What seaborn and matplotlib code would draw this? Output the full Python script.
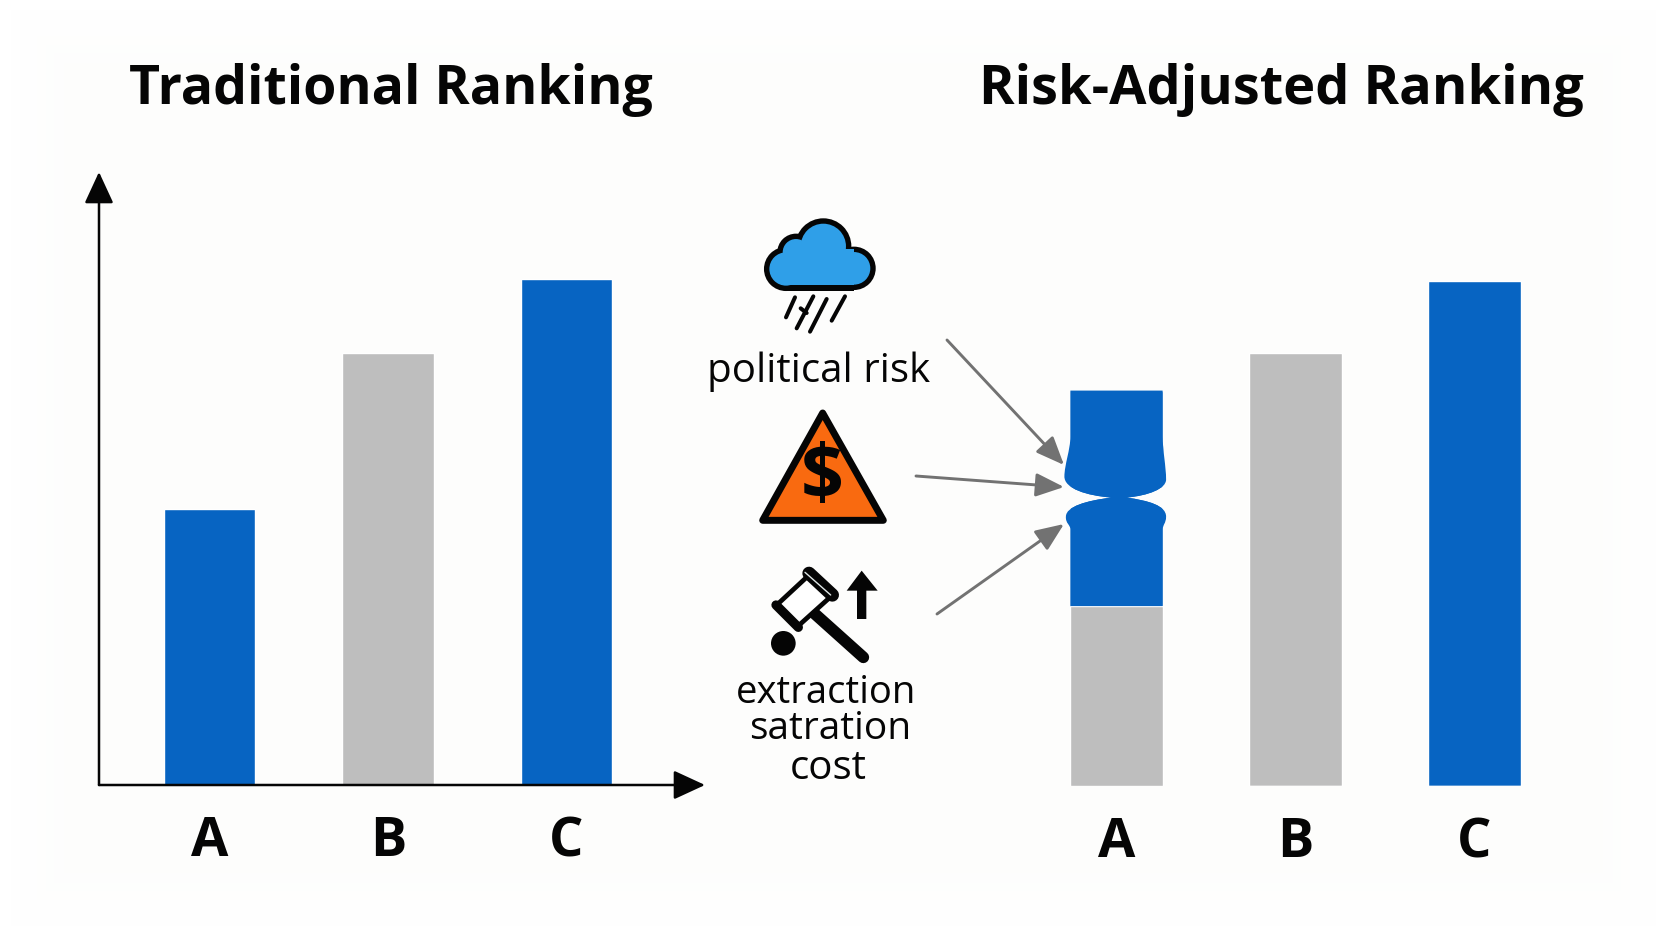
#!/usr/bin/env python3
"""Traditional vs risk-adjusted ranking, two bar panels with risk icons between them."""

import matplotlib
matplotlib.use("Agg")
import matplotlib.pyplot as plt
import numpy as np
import pandas as pd
import seaborn as sns
from matplotlib.patches import Circle, PathPatch, Polygon, Rectangle
from matplotlib.path import Path

categories = ["A", "B", "C"]
traditional_values = [45.0, 70.5, 82.5]
adjusted_totals = [64.4, 70.5, 82.2]
adjusted_remaining = [29.3, 0.0, 0.0]

panel_titles = ["Traditional Ranking", "Risk-Adjusted Ranking"]
risk_labels = ["political risk", "extraction", "satration", "cost"]

BLUE = "#0764c2"
GREY = "#bebebe"
INK = "#050505"
ARROW = "#727272"
W, H = 1666, 937

sns.set_theme(style="white")
plt.rcParams["font.family"] = ["Open Sans", "DejaVu Sans"]

fig = plt.figure(figsize=(W / 100, H / 100), dpi=100, facecolor="white")


def px_axes(left, top, right, bottom, **kw):
    """Axes placed by pixel box, y counted from the top of the image."""
    return fig.add_axes([left / W, 1 - bottom / H, (right - left) / W, (bottom - top) / H], **kw)


# soft off-white backdrop, fades to white at the image border
bg = px_axes(0, 0, W, H, zorder=-5)
yy, xx = np.mgrid[0:H, 0:W]
edge = np.minimum.reduce([xx, W - xx, yy, H - yy])
fade = np.clip((edge - 10) / 70, 0, 1)
shade = 255 - 2.0 * fade
bg.imshow(np.dstack([shade, shade + 0.4 * fade, shade - 0.6 * fade]).astype(np.uint8), aspect="auto")
bg.axis("off")

# left panel
left_df = pd.DataFrame({"item": categories, "value": traditional_values})
ax1 = px_axes(99, 173, 705, 786)
sns.barplot(data=left_df, x="item", y="value", hue="item", palette=[BLUE, GREY, BLUE],
            width=0.515, saturation=1, legend=False, ax=ax1)
ax1.set_xlim(-0.619, 2.776)
ax1.set_ylim(0, 100)

# right panel
right_df = pd.DataFrame({"item": categories, "total": adjusted_totals, "remaining": adjusted_remaining})
ax2 = px_axes(1000, 173, 1600, 787)
sns.barplot(data=right_df, x="item", y="total", hue="item", palette=[BLUE, GREY, BLUE],
            width=0.515, saturation=1, legend=False, ax=ax2)
sns.barplot(data=right_df, x="item", y="remaining", color=GREY, width=0.515, saturation=1, ax=ax2)
ax2.set_xlim((1000 - 1116.5) / 179, (1600 - 1116.5) / 179)
ax2.set_ylim(0, 100)

for ax in (ax1, ax2):
    ax.patch.set_visible(False)
    ax.set_xlabel("")
    ax.set_ylabel("")
    ax.set_yticks([])
    ax.set_xticks(range(3), categories)
    ax.tick_params(axis="x", length=0, pad=21, labelsize=39)
    for lab in ax.get_xticklabels():
        lab.set_fontweight("bold")
        lab.set_color(INK)
    for s in ax.spines.values():
        s.set_visible(False)

# axis lines with arrow heads on the left panel
arrow_kw = dict(arrowstyle="-|>,head_length=0.65,head_width=0.3", color=INK, lw=1.8,
                mutation_scale=30, shrinkA=0, shrinkB=0)
ax1.annotate("", xy=(0, 1), xytext=(0, 0), xycoords="axes fraction", arrowprops=arrow_kw)
ax1.annotate("", xy=(1, 0), xytext=(0, 0), xycoords="axes fraction", arrowprops=arrow_kw)

# overlay in image pixels for titles, icons and the squeezed bar
ov = px_axes(0, 0, W, H, zorder=5)
ov.set_xlim(0, W)
ov.set_ylim(H, 0)
ov.axis("off")

ov.text(391, 104, panel_titles[0], ha="center", va="baseline", fontsize=38.6, fontweight="bold", color=INK)
ov.text(1281, 104, panel_titles[1], ha="center", va="baseline", fontsize=39, fontweight="bold", color=INK)

# squeeze the blue part of bar A, offsets measured from the bar's own box
bar = ax2.patches[0]
to_ov = ax2.transData + ov.transData.inverted()
(x0, y1), (x1, y0) = to_ov.transform([(bar.get_x(), 0), (bar.get_x() + bar.get_width(), bar.get_height())])
y1 = to_ov.transform([(0, adjusted_remaining[0])])[0][1]
wy = y0 + 46
verts = [
    (x0, y0), (x1, y0), (x1, wy),
    (x1, wy + 13), (x1 + 3.5, wy + 30), (x1 + 3.5, wy + 43),
    (x1 + 3.5, wy + 52), (x1 - 14, wy + 59), (x1 - 36, wy + 61),
    (x1 - 14, wy + 64), (x1 + 3.5, wy + 69), (x1 + 3.5, wy + 80),
    (x1 + 3.5, wy + 87), (x1, wy + 88), (x1, wy + 93),
    (x1, y1), (x0, y1), (x0, wy + 93),
    (x0, wy + 88), (x0 - 5, wy + 87), (x0 - 4.5, wy + 80),
    (x0 - 4.5, wy + 70), (x0 + 16, wy + 64), (x0 + 41, wy + 61),
    (x0 + 16, wy + 59), (x0 - 6, wy + 52), (x0 - 6, wy + 40),
    (x0 - 6, wy + 28), (x0, wy + 13), (x0, wy),
    (x0, y0),
]
codes = [Path.MOVETO, Path.LINETO, Path.LINETO,
         Path.CURVE4, Path.CURVE4, Path.CURVE4,
         Path.CURVE4, Path.CURVE4, Path.CURVE4,
         Path.CURVE4, Path.CURVE4, Path.CURVE4,
         Path.CURVE4, Path.CURVE4, Path.CURVE4,
         Path.LINETO, Path.LINETO, Path.LINETO,
         Path.CURVE4, Path.CURVE4, Path.CURVE4,
         Path.CURVE4, Path.CURVE4, Path.CURVE4,
         Path.CURVE4, Path.CURVE4, Path.CURVE4,
         Path.CURVE4, Path.CURVE4, Path.CURVE4,
         Path.CLOSEPOLY]
waist = PathPatch(Path(verts, codes), facecolor=BLUE, edgecolor="none")
ov.add_patch(waist)
bar.set_clip_path(waist)

# arrows pointing at the squeeze
for start, end in [((947, 341), (1064, 466)), ((916, 477), (1064, 488)), ((937, 615), (1064, 525))]:
    ov.annotate("", xy=end, xytext=start,
                arrowprops=dict(arrowstyle="-|>,head_length=0.72,head_width=0.3", color=ARROW, lw=2.1,
                                mutation_scale=24, shrinkA=0, shrinkB=0))


def z1(x, y):
    return 680 + x / 3, 190 + y / 3


def z2(x, y):
    return 700 + x / 3, 540 + y / 3


# cloud icon: black silhouette first, blue on top
lobes = [((430, 172), 76), ((348, 190), 48), ((318, 240), 58), ((522, 238), 57)]
for pad, bottom, col in [(2.7, 305, INK), (-2.7, 289, "#2f9fe8")]:
    for c, r in lobes:
        ov.add_patch(Circle(z1(*c), r / 3 + pad, facecolor=col, edgecolor="none"))
    ov.add_patch(Rectangle(z1(318, 180), 204 / 3, (bottom - 180) / 3, facecolor=col, edgecolor="none"))
for a, b in [((345, 325), (318, 385)), ((400, 322), (350, 418)), ((440, 330), (390, 428)),
             ((495, 322), (455, 395)), ((362, 358), (380, 372))]:
    ov.plot(*zip(z1(*a), z1(*b)), color=INK, lw=2.9, solid_capstyle="round")

# warning triangle
ov.add_patch(Polygon([z1(428, 672), z1(248, 994), z1(610, 994)], closed=True, facecolor="#f96a10",
                     edgecolor=INK, lw=5, joinstyle="round"))
ov.text(*z1(428, 865), "$", ha="center", va="center", fontsize=54, fontweight="bold", color=INK)

# gavel and up arrow
ov.plot(*zip(z2(345, 225), z2(490, 355)), color=INK, lw=8.4, solid_capstyle="round")
ov.add_patch(Polygon([z2(325, 110), z2(390, 175), z2(290, 265), z2(228, 200)], closed=True, facecolor="white",
                     edgecolor=INK, lw=3.4, joinstyle="round", zorder=3))
ov.plot(*zip(z2(327, 103), z2(397, 168)), color=INK, lw=9.6, solid_capstyle="round", zorder=4)
ov.plot(*zip(z2(315, 100), z2(392, 168)), color="#dfe6e6", lw=1, zorder=4.5)
ov.plot(*zip(z2(228, 198), z2(295, 265)), color=INK, lw=6.7, solid_capstyle="round", zorder=4)
ov.add_patch(Circle(z2(250, 313), 37 / 3, facecolor=INK, edgecolor="none"))
ov.add_patch(Polygon([z2(485, 95), z2(533, 155), z2(499, 155), z2(499, 240), z2(471, 240), z2(471, 155), z2(440, 155)],
                     closed=True, facecolor=INK, edgecolor="none"))

# icon captions
for label, cx, base, size in zip(risk_labels, [819, 826, 830, 828], [382, 703, 739, 779], [29, 27.5, 28, 29]):
    ov.text(cx, base, label, ha="center", va="baseline", fontsize=size, color=INK)

fig.savefig("out.png", dpi=100)
